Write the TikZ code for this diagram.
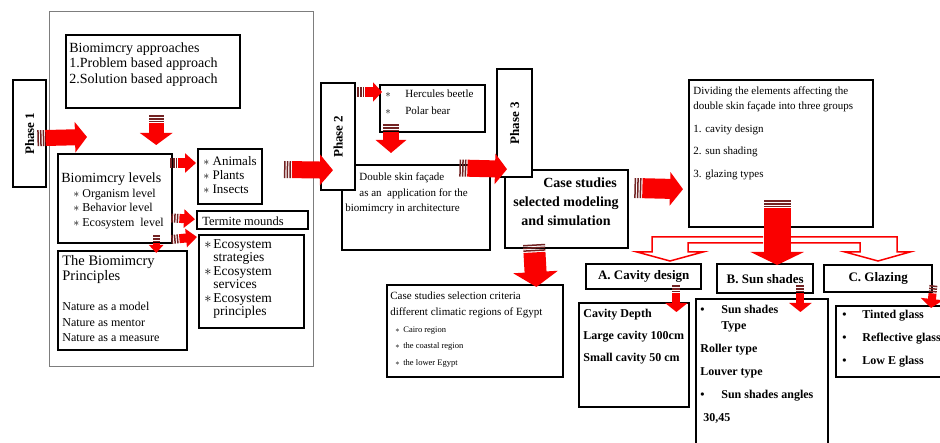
\documentclass[tikz,border=0pt]{standalone}
\usepackage{fontspec}
\setmainfont{Liberation Serif}
\usetikzlibrary{arrows.meta,decorations.markings,calc}
\definecolor{arrowred}{RGB}{250,0,0}
\definecolor{stripe}{RGB}{115,35,35}
\definecolor{framegray}{RGB}{125,125,125}
\newcommand{\fsz}[2]{\fontsize{#1}{#2}\selectfont}
\tikzset{every picture/.style={line width=0.75pt}}
\tikzset{
  box/.style={draw, line width=2.4pt, fill=white, inner sep=0pt, anchor=north west},
  txt/.style={anchor=north west, inner sep=0pt, align=left},
  blockarrow/.style n args={3}{draw=arrowred, line width=#1pt, -{Triangle[width=#2pt,length=#3pt]}, shorten <=8pt,
    postaction={decorate}, decoration={markings, mark=at position 3.5pt with {\draw[-, shorten <=0pt, draw=stripe, line width=#1pt, dash pattern=on 1.5pt off 1.2pt] (-3.5,0) -- (3.5,0);}}},
  hollowarrow/.style={draw=arrowred, line width=1.5pt, fill=white, line join=miter},
}

\begin{document}
\begin{tikzpicture}[x=1pt,y=1pt,yscale=-1]
		\useasboundingbox (0,0) rectangle (940,443);
		\clip (0,0) rectangle (940,443);
		
		%Shape: Rectangle [phase 1 frame]
		\node[box, draw=framegray, line width=1pt, minimum width=264pt, minimum height=355pt] (frame) at (49,11) {};
		\node[box, minimum width=33pt, minimum height=107pt] (phase1) at (12,79) {};
		\node[rotate=90, font=\bfseries\fsz{13}{15}] (phase1txt) at (phase1.center) {Phase 1};
		\node[box, minimum width=174pt, minimum height=73pt] (approach) at (65,34) {};
		\node[box, minimum width=114pt, minimum height=89pt] (levels) at (57,153) {};
		\node[box, minimum width=64pt, minimum height=55pt] (animals) at (197,148) {};
		\node[box, minimum width=111pt, minimum height=18pt] (termite) at (196,210) {};
		\node[box, minimum width=105pt, minimum height=93pt] (ecosys) at (198,234) {};
		\node[box, minimum width=129pt, minimum height=99pt] (principle) at (57,250) {};
		
		% Text Node
		\node[txt, font=\fsz{14}{15.5}] (approachtxt) at (69,42) {Biomimcry approaches\\1.Problem based approach\\2.Solution based approach};
		\node[txt, font=\fsz{14}{16}] (levelstitle) at (61,172.5) {Biomimcry levels};
		\node[txt, font=\fsz{12}{14.5}] (levelslist) at (73,188.8) {$\ast$ Organism level\\$\ast$ Behavior level\\$\ast$ Ecosystem~ level};
		\node[txt, font=\fsz{13}{14}] (animalstxt) at (203,156) {$\ast$ Animals\\$\ast$ Plants\\$\ast$ Insects};
		\node[anchor=west, inner sep=0pt, font=\fsz{12.5}{14}] (termitetxt) at ($(termite.west)+(6,1)$) {Termite mounds};
		\node[txt, font=\fsz{13.5}{13.5}] (ecosystxt) at (204,238.8) {\makebox[9pt][l]{$\ast$}Ecosystem\\\hspace*{9pt}strategies\\\makebox[9pt][l]{$\ast$}Ecosystem\\\hspace*{9pt}services\\\makebox[9pt][l]{$\ast$}Ecosystem\\\hspace*{9pt}principles};
		\node[txt, font=\fsz{14.5}{15}] (principletitle) at (62,255) {The Biomimcry\\Principles};
		\node[txt, font=\fsz{12}{15.5}] (principlelist) at (62,301.8) {Nature as a model\\Nature as mentor\\Nature as a measure};
		
		%Block Arrows
		\draw[blockarrow={16}{30}{12}] ($(phase1.east)+(-10,4.5)$) -- ($(levels.north west)+(30,-16)$);
		\draw[blockarrow={15}{32}{12}] ($(approach.south)+(3,6)$) -- ($(levels.north)+(41,-8)$);
		\draw[blockarrow={10}{19}{11}] ($(levels.north east)+(-3,10)$) -- ($(animals.north west)+(-1,15)$);
		\draw[blockarrow={9}{18}{11}] ($(levels.north east)+(-2,65)$) -- ($(termite.west)+(-1,-1)$);
		\draw[blockarrow={9}{18}{11}] ($(levels.south east)+(-2,-5)$) -- ($(ecosys.north west)+(-1,3)$);
		\draw[blockarrow={7}{14}{8}] ($(levels.south)+(41,-9)$) -- ($(principle.north)+(33.5,3)$);
		
		%Shape: Rectangle [phase 2]
		\node[box, minimum width=105pt, minimum height=47pt] (hercules) at (379,84) {};
		\node[box, minimum width=148pt, minimum height=85pt] (double) at (341,164) {};
		\node[box, minimum width=34pt, minimum height=107pt] (phase2) at (320,82) {};
		\node[rotate=90, font=\bfseries\fsz{13}{15}] (phase2txt) at (phase2.center) {Phase 2};
		% Text Node
		\node[txt, font=\fsz{11}{17}] (herculestxt) at (385,89.5) {\makebox[20pt][l]{$\ast$}Hercules beetle\\\makebox[20pt][l]{$\ast$}Polar bear};
		\node[txt, font=\fsz{11}{15.5}] (doubletxt) at (345,172.5) {\hspace*{14pt}Double skin façade\\\hspace*{14pt}as an\ \ application for the\\biomimcry in architecture};
		
		\draw[blockarrow={17}{30}{13}] ($(frame.east)+(-30,-19.5)$) -- ($(phase2.west)+(13,33.5)$);
		\draw[blockarrow={10}{19}{9}] ($(phase2.north east)+(1,10)$) -- ($(hercules.north west)+(3,8)$);
		\draw[blockarrow={16}{30}{13}] ($(hercules.south west)+(12,-9)$) -- ($(double.north west)+(50,-11)$);
		
		%Shape: Rectangle [phase 3]
		\node[box, minimum width=123pt, minimum height=78pt] (casestudy) at (504,169) {};
		\node[box, minimum width=35pt, minimum height=108pt] (phase3) at (496,68) {};
		\node[rotate=90, font=\bfseries\fsz{13}{15}] (phase3txt) at (phase3.center) {Phase 3};
		\node[anchor=north, inner sep=0pt, align=center, font=\bfseries\fsz{14}{19}] (casetxt) at (566,177) {\hspace*{28pt}Case studies\\selected modeling\\and simulation};
		\node[box, minimum width=176pt, minimum height=92pt] (criteria) at (386,284) {};
		\node[txt, font=\fsz{11}{16}] (criteriatxt) at (390,291.4) {Case studies selection criteria\\different climatic regions of Egypt};
		\node[txt, font=\fsz{8.5}{16.5}] (criterialist) at (395,326) {\makebox[8pt][l]{$\ast$}Cairo region\\\makebox[8pt][l]{$\ast$}the coastal region\\\makebox[8pt][l]{$\ast$}the lower Egypt};
		\node[box, minimum width=184pt, minimum height=147pt] (dividing) at (688,79) {};
		\node[txt, font=\fsz{11}{15}] (dividingtxt) at (693,86.4) {Dividing the elements affecting the\\double skin façade into three groups};
		\node[txt, font=\fsz{11}{22.5}] (dividinglist) at (693,124.4) {1. cavity design\\2. sun shading\\3. glazing types};
		
		\draw[blockarrow={17}{30}{12}] ($(double.north east)+(-32,4)$) -- ($(phase3.west)+(11,46)$);
		\draw[blockarrow={20}{33}{13}] ($(casestudy.north east)+(5,19)$) -- ($(dividing.west)+(-5,35.5)$);
		\draw[blockarrow={22}{44}{15}] ($(casestudy.south west)+(30,-5)$) -- ($(criteria.north east)+(-28,3)$);
		
		%Hollow Arrows
		\draw[hollowarrow] (763,237) -- (652,237) -- (652,252) -- (637,252) -- (670,261) -- (703,252) -- (688,252) -- (688,243) -- (763,243);
		\draw[hollowarrow] (790,237) -- (897,237) -- (897,252) -- (910,252) -- (878,261) -- (845,252) -- (860,252) -- (860,243) -- (790,243);
		
		%Shape: Rectangle [groups]
		\node[box, minimum width=115pt, minimum height=25pt, font=\bfseries\fsz{13}{15}] (groupA) at (585,263) {A. Cavity design};
		\node[box, minimum width=96pt, minimum height=29pt, font=\bfseries\fsz{13}{15}] (groupB) at (716,263) {B. Sun shades};
		\node[box, minimum width=108pt, minimum height=27pt, font=\bfseries\fsz{13}{15}] (groupC) at (823,264) {C. Glazing};
		\node[box, minimum width=110pt, minimum height=104pt] (cavity) at (578,302) {};
		\node[box, minimum width=132pt, minimum height=160pt] (shades) at (695,298) {};
		\node[box, minimum width=110pt, minimum height=71pt] (glazing) at (835,305) {};
		% Text Node
		\node[txt, font=\bfseries\fsz{12}{22}] (cavitytxt) at (583,308.8) {Cavity Depth\\Large cavity 100cm\\Small cavity 50 cm};
		\node[txt, font=\bfseries\fsz{12}{23}] (shadestxt) at (700,304.8) {\makebox[21pt][l]{\textbullet}Sun shades\\[-7pt]\hspace*{21pt}Type\\Roller type\\Louver type\\\makebox[21pt][l]{\textbullet}Sun shades angles\\\hspace*{3pt}30,45};
		\node[txt, font=\bfseries\fsz{12}{23}] (glazingtxt) at (842,309.8) {\makebox[20pt][l]{\textbullet}Tinted glass\\\makebox[20pt][l]{\textbullet}Reflective glass\\\makebox[20pt][l]{\textbullet}Low E glass};
		
		\draw[blockarrow={27}{53}{13}] ($(dividing.south)+(-4,-28)$) -- ($(groupB.north)+(12,2)$);
		\draw[blockarrow={8}{22}{9}] ($(groupA.south east)+(-26,-5)$) -- ($(cavity.north east)+(-14,10)$);
		\draw[blockarrow={8}{22}{9}] ($(groupB.south east)+(-14,-9)$) -- ($(shades.north east)+(-29,14)$);
		\draw[blockarrow={8}{22}{9}] ($(groupC.south east)+(0,-8)$) -- ($(glazing.north west)+(96,3)$);
		
	\end{tikzpicture}
\end{document}
